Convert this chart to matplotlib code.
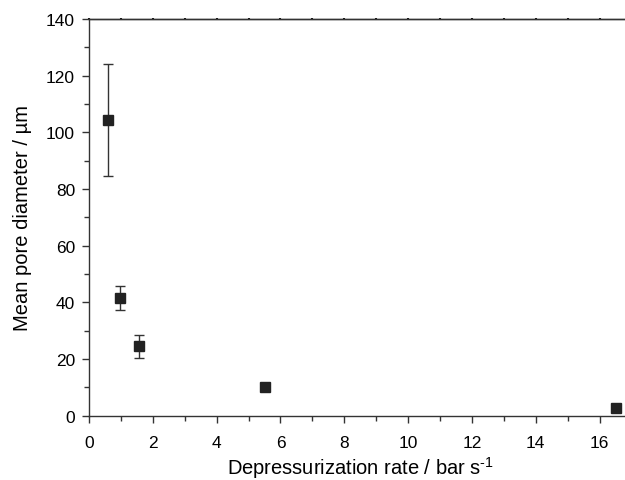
import matplotlib
matplotlib.use("Agg")
import matplotlib.pyplot as plt
from matplotlib.ticker import MultipleLocator, NullFormatter

# depressurization rate (bar/s) vs mean pore diameter (um)
rate = [0.59, 0.96, 1.58, 5.53, 16.5]
diameter = [104.3, 41.5, 24.5, 10.3, 2.8]
diameter_err = [19.7, 4.3, 4.0, 0.6, 0.4]

plt.rcParams["font.family"] = ["Liberation Sans", "DejaVu Sans"]
plt.rcParams["mathtext.fontset"] = "custom"
plt.rcParams["mathtext.rm"] = "Liberation Sans"

fig = plt.figure(figsize=(6.25, 4.81), dpi=100)
ax = fig.add_axes([0.1424, 0.1337, 0.868, 0.8247])

edge = "#333333"
ax.errorbar(rate, diameter, yerr=diameter_err, fmt="s", color="#222222", ms=6.5,
            ecolor=edge, elinewidth=1.0, capsize=3.3, capthick=1.0)

ax.set_xlim(0, 17)
ax.set_ylim(0, 140)
ax.xaxis.set_major_locator(MultipleLocator(2))
ax.xaxis.set_minor_locator(MultipleLocator(1))
ax.yaxis.set_major_locator(MultipleLocator(20))
ax.yaxis.set_minor_locator(MultipleLocator(10))

ax.tick_params(axis="both", which="major", direction="out", length=5, width=1,
               color=edge, labelsize=12.5)
ax.tick_params(axis="x", which="major", pad=9)
ax.tick_params(axis="y", which="major", pad=5)
ax.tick_params(axis="both", which="minor", direction="out", length=3.5, width=1,
               color=edge)

# top spine with tiny tick dots every unit
top = ax.secondary_xaxis("top")
top.xaxis.set_major_locator(MultipleLocator(1))
top.xaxis.set_major_formatter(NullFormatter())
top.tick_params(axis="x", which="major", direction="inout", length=2, width=1.5,
                color="#111111")
top.spines["top"].set_color(edge)
top.spines["top"].set_linewidth(1.0)

for side in ["left", "bottom", "top"]:
    ax.spines[side].set_color(edge)
    ax.spines[side].set_linewidth(1.0)
ax.spines["right"].set_visible(False)

ax.set_xlabel("Depressurization rate / bar s$^{\\mathrm{\u2010}1}$", fontsize=14.5, labelpad=3)
ax.set_ylabel("Mean pore diameter / µm", fontsize=14.5, labelpad=10)

fig.savefig("out.png", dpi=100)
